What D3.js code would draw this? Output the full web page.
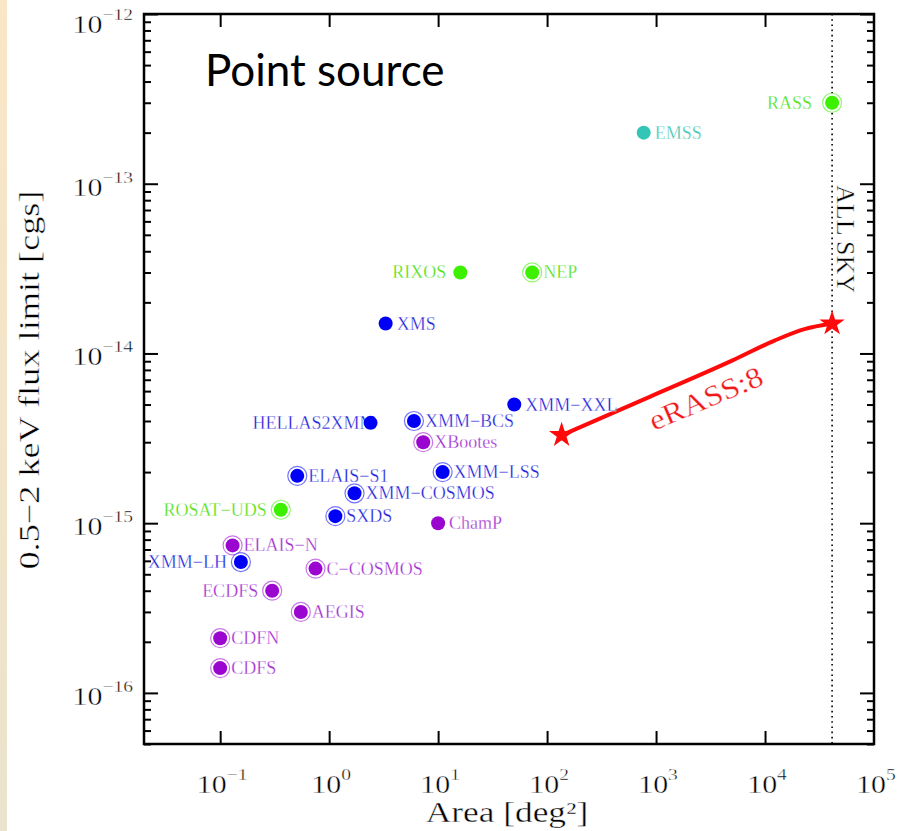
<!DOCTYPE html>
<html>
<head>
<meta charset="utf-8">
<script src="https://cdn.jsdelivr.net/npm/d3@7"></script>
<style>
  body { margin: 0; background: #fff; }
  svg text { font-family: 'Liberation Serif', serif; }
  /* thin the glyphs a little, the original uses a hairline vector font */
  svg text.thin { stroke: #fff; stroke-width: 0.4px; }
  svg text.label { stroke: #fff; stroke-width: 0.3px; }
</style>
</head>
<body>
<div id="chart"></div>
<script>
// survey data (area in deg^2, 0.5-2 keV flux limit in cgs)
const surveys = ['RASS', 'EMSS', 'RIXOS', 'NEP', 'XMS', 'XMM−XXL', 'HELLAS2XMM', 'XMM−BCS', 'XBootes',
  'ELAIS−S1', 'XMM−LSS', 'XMM−COSMOS', 'ROSAT−UDS', 'SXDS', 'ChamP', 'ELAIS−N', 'XMM−LH',
  'C−COSMOS', 'ECDFS', 'AEGIS', 'CDFN', 'CDFS']
const area = [41253, 770, 16, 73, 3.3, 50, 2.4, 6.0, 7.3,
  0.51, 11, 1.71, 0.36, 1.14, 10, 0.13, 0.155,
  0.75, 0.3, 0.55, 0.1, 0.1]
const fluxLimit = [3e-13, 2e-13, 3e-14, 3e-14, 1.5e-14, 5e-15, 3.9e-15, 4e-15, 3e-15,
  1.9e-15, 2e-15, 1.5e-15, 1.2e-15, 1.1e-15, 1e-15, 7.4e-16, 5.9e-16,
  5.4e-16, 4e-16, 3e-16, 2.1e-16, 1.4e-16]
const mission = ['rosat', 'einstein', 'rosat', 'rosat', 'xmm', 'xmm', 'xmm', 'xmm', 'chandra',
  'xmm', 'xmm', 'xmm', 'rosat', 'xmm', 'chandra', 'chandra', 'xmm',
  'chandra', 'chandra', 'chandra', 'chandra', 'chandra']
const ringed = [1, 0, 0, 1, 0, 0, 0, 1, 1, 1, 1, 1, 1, 1, 0, 1, 1, 1, 1, 1, 1, 1]
const labelSide = ['left', 'right', 'left', 'right', 'right', 'right', 'left', 'right', 'right',
  'right', 'right', 'right', 'left', 'right', 'right', 'right', 'left',
  'right', 'left', 'right', 'right', 'right']

// eRASS:8 sensitivity track
const erassArea = [136, 873, 5030, 12200, 23000, 41253]
const erassFlux = [3.3e-15, 5.55e-15, 9.1e-15, 1.19e-14, 1.39e-14, 1.5e-14]

const allSky = 41253
const xTicks = [0.1, 1, 10, 100, 1000, 10000, 100000]
const xTickExp = ['−1', '0', '1', '2', '3', '4', '5']
const yTicks = [1e-12, 1e-13, 1e-14, 1e-15, 1e-16]
const yTickExp = ['−12', '−13', '−14', '−15', '−16']

const colors = { rosat: '#3cf000', einstein: '#33c6b6', xmm: '#0000f5', chandra: '#9a05d0' }
const textColors = { rosat: '#4ce010', einstein: '#3cc4b4', xmm: '#1c1cdc', chandra: '#9c2cd0' }

const W = 899
const H = 831
const plotL = 144
const plotR = 874
const plotT = 14
const plotB = 744

const svg = d3.select('#chart')
  .append('svg')
  .attr('width', W)
  .attr('height', H)

// beige strip on the far left
const grad = svg.append('defs').append('linearGradient')
  .attr('id', 'strip')
  .attr('x1', 0).attr('y1', 0).attr('x2', 0).attr('y2', 1)
grad.append('stop').attr('offset', '0%').attr('stop-color', '#f9e6c6')
grad.append('stop').attr('offset', '100%').attr('stop-color', '#ebe3cd')
svg.append('rect')
  .attr('x', 0).attr('y', 0)
  .attr('width', 7).attr('height', H)
  .attr('fill', 'url(#strip)')

const x = d3.scaleLog()
  .domain([0.02, 1e5])
  .range([plotL, plotR])
const y = d3.scaleLog()
  .domain([5e-17, 1e-12])
  .range([plotB, plotT])

// minor tick values 2..9 x 10^n inside the domain
const yMinor = []
for (let n = -17; n <= -13; n++) {
  for (let m = 2; m <= 9; m++) {
    const v = m * Math.pow(10, n)
    if (v >= 5e-17 && v < 1e-12) yMinor.push(v)
  }
}

function styleAxis (g) {
  g.select('.domain').remove()
  g.selectAll('.tick line').attr('stroke', '#000').attr('stroke-width', 2)
}

svg.append('g').attr('transform', `translate(${plotL},0)`)
  .call(d3.axisLeft(y).tickValues(yTicks).tickSize(-14).tickFormat(''))
  .call(styleAxis)
svg.append('g').attr('transform', `translate(${plotL},0)`)
  .call(d3.axisLeft(y).tickValues(yMinor).tickSize(-7).tickFormat(''))
  .call(styleAxis)
svg.append('g').attr('transform', `translate(${plotR},0)`)
  .call(d3.axisRight(y).tickValues(yTicks).tickSize(-14).tickFormat(''))
  .call(styleAxis)
svg.append('g').attr('transform', `translate(${plotR},0)`)
  .call(d3.axisRight(y).tickValues(yMinor).tickSize(-7).tickFormat(''))
  .call(styleAxis)
svg.append('g').attr('transform', `translate(0,${plotB})`)
  .call(d3.axisBottom(x).tickValues(xTicks.slice(0, -1)).tickSize(-13).tickFormat(''))
  .call(styleAxis)
svg.append('g').attr('transform', `translate(0,${plotT})`)
  .call(d3.axisTop(x).tickValues(xTicks.slice(0, -1)).tickSize(-13).tickFormat(''))
  .call(styleAxis)

// frame
svg.append('rect')
  .attr('x', plotL).attr('y', plotT)
  .attr('width', plotR - plotL).attr('height', plotB - plotT)
  .attr('fill', 'none')
  .attr('stroke', '#000')
  .attr('stroke-width', 2.5)

// the plot font is wide and thin, so stretch Liberation Serif sideways
const stretch = 1.15

// tick labels as 10^n
const yLab = svg.append('g').selectAll('text')
  .data(yTicks)
  .join('text')
  .attr('class', 'thin')
  .attr('transform', function (d, i) {
    return `translate(${plotL - 11},${y(d) + (i === 0 ? 19 : 12)}) scale(${stretch},1)`
  })
  .attr('text-anchor', 'end')
  .attr('font-size', 26)
yLab.append('tspan').text('10')
yLab.append('tspan')
  .attr('dy', -13)
  .attr('font-size', 17)
  .text(function (d, i) { return yTickExp[i] })

const xLab = svg.append('g').selectAll('text')
  .data(xTicks)
  .join('text')
  .attr('class', 'thin')
  .attr('transform', function (d) { return `translate(${x(d) + 2},793) scale(${stretch},1)` })
  .attr('text-anchor', 'middle')
  .attr('font-size', 26)
xLab.append('tspan').text('10')
xLab.append('tspan')
  .attr('dy', -13)
  .attr('font-size', 17)
  .text(function (d, i) { return xTickExp[i] })

// axis titles
svg.append('text')
  .attr('class', 'thin')
  .attr('transform', `translate(${(plotL + plotR) / 2 - 2},822) scale(1.22,1)`)
  .attr('text-anchor', 'middle')
  .attr('font-size', 29)
  .text('Area [deg²]')

svg.append('text')
  .attr('class', 'thin')
  .attr('transform', 'translate(39,380) rotate(-90) scale(1.25,1)')
  .attr('text-anchor', 'middle')
  .attr('font-size', 29)
  .text('0.5−2 keV flux limit [cgs]')

// title
svg.append('text')
  .attr('x', 205)
  .attr('y', 86)
  .style('font-family', 'Lato, sans-serif')
  .attr('font-size', 44)
  .text('Point source')

// all-sky line
svg.append('line')
  .attr('x1', x(allSky)).attr('x2', x(allSky))
  .attr('y1', plotT).attr('y2', plotB)
  .attr('stroke', '#000')
  .attr('stroke-width', 1.6)
  .attr('stroke-dasharray', '1.6,3.6')

svg.append('text')
  .attr('class', 'thin')
  .attr('transform', `translate(${x(allSky) + 5},185) rotate(90)`)
  .attr('font-size', 26)
  .text('ALL SKY')

// eRASS:8 track
const track = erassArea.map(function (a, i) { return [a, erassFlux[i]] })
svg.append('path')
  .datum(track)
  .attr('d', d3.line()
    .x(function (d) { return x(d[0]) })
    .y(function (d) { return y(d[1]) })
    .curve(d3.curveMonotoneX))
  .attr('fill', 'none')
  .attr('stroke', '#ff0a0a')
  .attr('stroke-width', 4)

svg.append('g').selectAll('path')
  .data([track[0], track[track.length - 1]])
  .join('path')
  .attr('transform', function (d) { return `translate(${x(d[0])},${y(d[1])})` })
  .attr('d', d3.symbol().type(d3.symbolStar).size(200))
  .attr('fill', '#ff0a0a')

svg.append('text')
  .attr('class', 'label')
  .attr('transform', 'translate(654,431) rotate(-23) scale(1.12,1)')
  .attr('font-size', 29)
  .attr('fill', '#f01818')
  .text('eRASS:8')

// survey points
const pts = surveys.map(function (s, i) {
  return { name: s, a: area[i], f: fluxLimit[i], m: mission[i], ring: ringed[i], side: labelSide[i] }
})

const gp = svg.append('g')
gp.selectAll('text')
  .data(pts)
  .join('text')
  .attr('class', 'label')
  .attr('x', function (d) {
    if (d.name === 'HELLAS2XMM') return x(d.a) + 5
    if (d.name === 'RASS') return x(d.a) - 20
    return d.side === 'left' ? x(d.a) - 14 : x(d.a) + 11
  })
  .attr('y', function (d) { return y(d.f) + 6 })
  .attr('text-anchor', function (d) { return d.side === 'left' ? 'end' : 'start' })
  .attr('font-size', 18)
  .attr('fill', function (d) { return textColors[d.m] })
  .text(function (d) { return d.name })

gp.selectAll('circle.ring')
  .data(pts.filter(function (d) { return d.ring }))
  .join('circle')
  .attr('class', 'ring')
  .attr('cx', function (d) { return x(d.a) })
  .attr('cy', function (d) { return y(d.f) })
  .attr('r', 9.5)
  .attr('fill', '#fff')
  .attr('stroke', function (d) { return colors[d.m] })
  .attr('stroke-opacity', 0.55)
  .attr('stroke-width', 1.2)

gp.selectAll('circle.dot')
  .data(pts)
  .join('circle')
  .attr('class', 'dot')
  .attr('cx', function (d) { return x(d.a) })
  .attr('cy', function (d) { return y(d.f) })
  .attr('r', 7)
  .attr('fill', function (d) { return colors[d.m] })
</script>
</body>
</html>
